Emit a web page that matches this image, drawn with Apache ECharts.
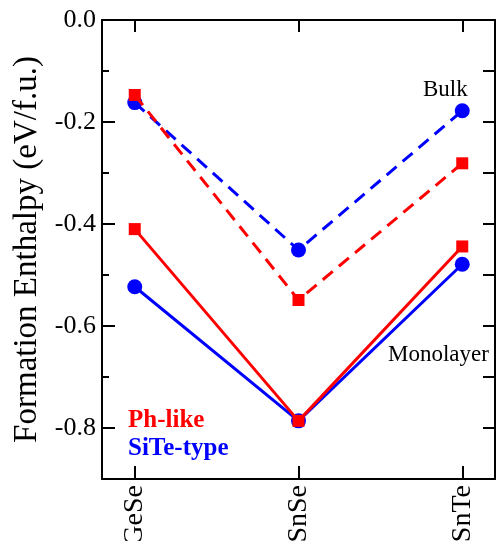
<!DOCTYPE html>
<html>
<head>
<meta charset="utf-8">
<script src="https://cdn.jsdelivr.net/npm/echarts@6/dist/echarts.min.js"></script>
<style>
  html, body {margin: 0; padding: 0; background: #fff;}
  #chart {width: 496px; height: 541px;}
</style>
</head>
<body>
<div id="chart"></div>
<script>
const categories = ['GeSe', 'SnSe', 'SnTe']
const phMono = [-0.41, -0.786, -0.444]
const siteMono = [-0.523, -0.786, -0.479]
const phBulk = [-0.147, -0.549, -0.281]
const siteBulk = [-0.162, -0.451, -0.178]
const yMajor = [-0.8, -0.6, -0.4, -0.2, 0]
const catIdx = [0, 1, 2]

const FONT = '"Liberation Serif", "DejaVu Serif", serif'
const RED = '#ff0000'
const BLUE = '#0000ff'

const pairs = vals => vals.map((v, i) => [i, v])

const lineSeries = (name, vals, color, symbol, size, dashed) => ({
  name: name,
  type: 'line',
  data: pairs(vals),
  symbol: symbol,
  symbolSize: size,
  showSymbol: true,
  animation: false,
  itemStyle: {color: color},
  lineStyle: {color: color, width: 3, type: dashed ? [13, 8] : 'solid'},
  z: color === RED ? 4 : 3,
})

const axisLine = {show: true, onZero: false, lineStyle: {color: '#000', width: 2}}
const tickStyle = {color: '#000', width: 2}

const option = {
  backgroundColor: '#fff',
  grid: {left: 102, top: 20, right: 1, bottom: 62, containLabel: false, outerBoundsMode: 'none'},
  xAxis: [
    {
      type: 'value', min: -0.2, max: 2.2, position: 'bottom',
      axisLine: axisLine,
      splitLine: {show: false},
      axisTick: {customValues: catIdx, inside: true, length: 13, lineStyle: tickStyle},
      axisLabel: {
        customValues: catIdx, rotate: 90, margin: 6,
        fontFamily: FONT, fontSize: 28, color: '#000',
        formatter: v => categories[Math.round(v)],
      },
    },
    {
      type: 'value', min: -0.2, max: 2.2, position: 'top',
      axisLine: axisLine,
      splitLine: {show: false},
      axisTick: {customValues: catIdx, inside: true, length: 12, lineStyle: tickStyle},
      axisLabel: {show: false},
    },
  ],
  yAxis: [
    {
      type: 'value', min: -0.9, max: 0, interval: 0.1, position: 'left',
      name: 'Formation Enthalpy (eV/f.u.)',
      nameLocation: 'middle', nameGap: 58,
      nameTextStyle: {fontFamily: FONT, fontSize: 33, color: '#000'},
      axisLine: axisLine,
      splitLine: {show: false},
      axisTick: {customValues: yMajor, inside: true, length: 13, lineStyle: tickStyle},
      axisLabel: {
        customValues: yMajor, margin: 6,
        fontFamily: FONT, fontSize: 26, color: '#000',
        formatter: v => v === 0 ? '0.0' : v.toFixed(1),
      },
    },
    {
      // minor ticks on the left
      type: 'value', min: -0.9, max: 0, interval: 0.1, position: 'left',
      axisLine: {show: false, onZero: false},
      splitLine: {show: false},
      axisTick: {inside: true, length: 7, lineStyle: tickStyle},
      axisLabel: {show: false},
    },
    {
      type: 'value', min: -0.9, max: 0, interval: 0.1, position: 'right',
      axisLine: axisLine,
      splitLine: {show: false},
      axisTick: {inside: true, length: 12, lineStyle: tickStyle},
      axisLabel: {show: false},
    },
  ],
  legend: {
    orient: 'vertical',
    left: 118, top: 403,
    icon: 'none',
    itemWidth: 0, itemHeight: 14, itemGap: 3,
    selectedMode: false,
    data: [
      {name: 'Ph-like', textStyle: {color: RED}},
      {name: 'SiTe-type', textStyle: {color: BLUE}},
    ],
    textStyle: {fontFamily: FONT, fontSize: 25, fontWeight: 'bold'},
  },
  graphic: [
    {type: 'text', left: 423, top: 78, style: {text: 'Bulk', font: '23px ' + FONT, fill: '#000'}},
    {type: 'text', left: 388, top: 343, style: {text: 'Monolayer', font: '23px ' + FONT, fill: '#000'}},
  ],
  series: [
    lineSeries('SiTe-type', siteMono, BLUE, 'circle', 15, false),
    lineSeries('SiTe-type', siteBulk, BLUE, 'circle', 15, true),
    lineSeries('Ph-like', phMono, RED, 'rect', 12, false),
    lineSeries('Ph-like', phBulk, RED, 'rect', 12, true),
  ],
}

const chart = echarts.init(document.getElementById('chart'), null, {renderer: 'canvas'})
chart.setOption(option)
</script>
</body>
</html>
